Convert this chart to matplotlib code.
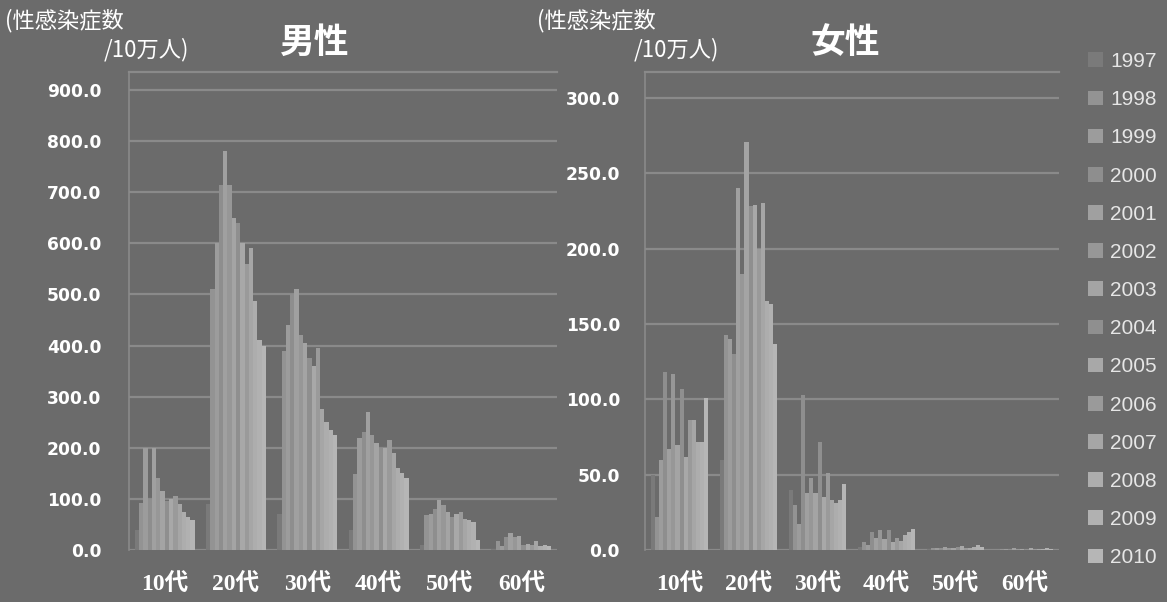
import matplotlib
matplotlib.use("Agg")
import matplotlib.pyplot as plt
import numpy as np
from matplotlib.patches import Patch

plt.rcParams['font.family'] = ['Noto Sans CJK JP', 'DejaVu Sans']

years = ['1997', '1998', '1999', '2000', '2001', '2002', '2003', '2004',
         '2005', '2006', '2007', '2008', '2009', '2010']
age_groups = ['10代', '20代', '30代', '40代', '50代', '60代']

# male values per year (rows = years), columns = age groups
male_10s = [40, 92, 200, 100, 200, 140, 115, 95, 100, 105, 90, 75, 65, 58]
male_20s = [90, 511, 600, 715, 780, 715, 650, 640, 600, 560, 590, 487, 410, 400]
male_30s = [70, 390, 440, 500, 510, 420, 405, 375, 360, 395, 275, 250, 235, 225]
male_40s = [40, 148, 220, 230, 270, 225, 210, 200, 200, 215, 190, 160, 150, 140]
male_50s = [10, 68, 70, 80, 98, 88, 75, 65, 70, 75, 60, 58, 55, 20]
male_60s = [2, 18, 8, 25, 33, 25, 28, 10, 12, 10, 18, 8, 10, 8]

female_10s = [50, 22, 60, 118, 67, 117, 70, 107, 62, 86, 86, 72, 72, 101]
female_20s = [60, 143, 140, 130, 240, 183, 271, 228, 229, 200, 230, 165, 163, 137]
female_30s = [40, 30, 17, 103, 38, 48, 38, 72, 35, 51, 33, 31, 33, 44]
female_40s = [2, 5, 3, 12, 8, 13, 7, 13, 5, 8, 6, 10, 12, 14]
female_50s = [0.5, 1, 1, 1.5, 2, 1.5, 1, 2, 2.5, 1, 1.5, 2, 3, 2]
female_60s = [0.3, 0.5, 0.5, 0.8, 1, 0.6, 0.5, 0.8, 1, 0.5, 0.6, 0.8, 1, 0.7]

male_ticks = [0, 100, 200, 300, 400, 500, 600, 700, 800, 900]
female_ticks = [0, 50, 100, 150, 200, 250, 300]

year_colors = ['#7a7a7a', '#939393', '#9c9c9c', '#8e8e8e', '#a0a0a0', '#979797',
               '#a4a4a4', '#8f8f8f', '#a8a8a8', '#9a9a9a', '#a6a6a6', '#adadad',
               '#b1b1b1', '#b6b6b6']

BG = '#6b6b6b'
GRID = '#8a8a8a'
W = 1167
H = 602

fig = plt.figure(figsize=(W / 100, H / 100), dpi=100, facecolor=BG)

male = np.array([male_10s, male_20s, male_30s, male_40s, male_50s, male_60s]).T
female = np.array([female_10s, female_20s, female_30s, female_40s, female_50s, female_60s]).T


def panel(rect, data, ticks, ymax_tick, top_px, zero_px, ypad):
    ax = fig.add_axes(rect)
    ax.set_facecolor(BG)
    n = data.shape[0]
    x = np.arange(len(age_groups))
    bw = 0.84 / n
    for i in range(n):
        ax.bar(x - 0.42 + bw * (i + 0.5), data[i], width=bw,
               color=year_colors[i], linewidth=0, zorder=3)
    ymax = ymax_tick * (zero_px - top_px[0]) / (zero_px - top_px[1])
    ax.set_ylim(0, ymax)
    ax.set_xlim(-0.5, len(age_groups) - 0.5)
    ax.set_yticks(ticks)
    ax.set_yticklabels([f'{t:.1f}' for t in ticks], color='white',
                       fontsize=12.3, fontweight='bold', family=['DejaVu Sans'])
    ax.set_xticks(x)
    ax.set_xticklabels(age_groups, color='white', fontsize=17, fontweight='bold',
                       family=['Liberation Serif', 'Noto Sans CJK JP'])
    ax.tick_params(axis='both', length=0)
    ax.tick_params(axis='y', pad=ypad)
    ax.tick_params(axis='x', pad=17)
    ax.grid(axis='y', color=GRID, linewidth=1.6, zorder=0)
    for s in ['right', 'bottom']:
        ax.spines[s].set_visible(False)
    ax.spines['left'].set_color(GRID)
    ax.spines['left'].set_linewidth(1.2)
    ax.spines['top'].set_color(GRID)
    ax.spines['top'].set_linewidth(1.6)
    return ax


ax_bottom = (H - 550) / H
ax_height = (550 - 72) / H
panel([129 / W, ax_bottom, 428 / W, ax_height], male, male_ticks, 900, (72, 90), 550, 20)
panel([645 / W, ax_bottom, 414 / W, ax_height], female, female_ticks, 300, (72, 98), 550, 18)

# labels and titles
fig.text(5 / W, 1 - 21 / H, '(性感染症数', color='white', fontsize=16, va='center', ha='left')
fig.text(104 / W, 1 - 50 / H, '/10万人)', color='white', fontsize=16, va='center', ha='left')
fig.text(315 / W, 1 - 42 / H, '男性', color='white', fontsize=25, fontweight='bold',
         va='center', ha='center')
fig.text(537 / W, 1 - 21 / H, '(性感染症数', color='white', fontsize=16, va='center', ha='left')
fig.text(634 / W, 1 - 50 / H, '/10万人)', color='white', fontsize=16, va='center', ha='left')
fig.text(845 / W, 1 - 42 / H, '女性', color='white', fontsize=25, fontweight='bold',
         va='center', ha='center')

handles = [Patch(facecolor=c, edgecolor='none') for c in year_colors]
leg = fig.legend(handles, years, loc='upper left',
                 bbox_to_anchor=(1088 / W, 1 - 52 / H), frameon=False,
                 prop={'family': ['Liberation Sans'], 'size': 15},
                 labelcolor='#e6e6e6', handlelength=0.7,
                 handleheight=0.7, handletextpad=0.35, labelspacing=0.92,
                 borderaxespad=0, borderpad=0)

fig.savefig('out.png', dpi=100, facecolor=BG)
